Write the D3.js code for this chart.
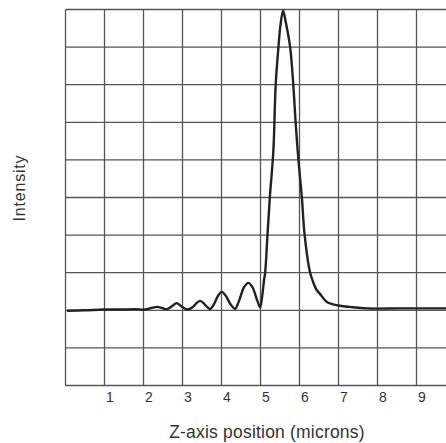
<!DOCTYPE html>
<html><head><meta charset="utf-8">
<script src="https://cdn.jsdelivr.net/npm/d3@7"></script>
<style>body{margin:0;background:#fff;overflow:hidden}svg{display:block}</style>
</head><body>
<svg id="c" width="446" height="443"></svg>
<script>
const zPosition = [0.04,0.5,0.96,1.40,1.78,2.04,2.20,2.35,2.48,2.60,2.72,2.85,2.98,3.12,3.27,3.37,3.45,3.53,3.63,3.71,3.80,3.92,4.01,4.10,4.24,4.35,4.45,4.58,4.69,4.80,4.92,4.99,5.03,5.09,5.12,5.18,5.24,5.33,5.39,5.46,5.51,5.58,5.65,5.76,5.84,5.90,5.97,6.06,6.13,6.27,6.35,6.44,6.53,6.70,6.86,7.04,7.29,7.72,8.58,9.76];
const intensity = [1.99,2.00,2.02,2.02,2.03,2.02,2.06,2.09,2.06,2.03,2.10,2.19,2.10,2.02,2.09,2.20,2.25,2.20,2.09,2.03,2.15,2.40,2.49,2.40,2.15,2.04,2.25,2.62,2.73,2.60,2.25,2.08,2.27,2.80,3.01,4.02,5.01,6.25,8.01,9.00,9.57,9.97,9.65,9.00,8.01,7.01,6.02,5.01,4.02,3.01,2.75,2.54,2.43,2.22,2.16,2.12,2.09,2.05,2.05,2.05];
const xTicks = [1,2,3,4,5,6,7,8,9];
const yGrid = [0,1,2,3,4,5,6,7,8,9,10];
const xGrid = [0,1,2,3,4,5,6,7,8,9,10];
const xTitle = "Z-axis position (microns)";
const yTitle = "Intensity";

const svg = d3.select("#c");
const x = d3.scaleLinear().domain([0,10]).range([65.5,455.5]);
const y = d3.scaleLinear().domain([0,10]).range([385.5,9.5]);
const font = "'Liberation Sans', Arial, Helvetica, sans-serif";

const g = svg.append("g");
g.selectAll(".vg").data(xGrid).join("line")
  .attr("x1", d=>x(d)).attr("x2", d=>x(d)).attr("y1", y(0)).attr("y2", y(10))
  .attr("stroke", "#555").attr("stroke-width", 1.3);
g.selectAll(".hg").data(yGrid).join("line")
  .attr("x1", x(0)).attr("x2", x(10)).attr("y1", d=>y(d)).attr("y2", d=>y(d))
  .attr("stroke", "#555").attr("stroke-width", 1.3);

const xAxis = d3.axisBottom(x).tickValues(xTicks).tickSize(0).tickPadding(7).tickFormat(d3.format("d"));
const ax = svg.append("g").attr("transform", `translate(5,${y(0)})`).call(xAxis);
ax.select(".domain").remove();
ax.selectAll("text").attr("font-family", font).attr("font-size", 14).attr("fill", "#333");

const line = d3.line().x((d,i)=>x(zPosition[i])).y(d=>y(d)).curve(d3.curveCatmullRom.alpha(0.5));
svg.append("path").datum(intensity).attr("d", line)
  .attr("fill","none").attr("stroke","#222").attr("stroke-width",2.4).attr("stroke-linejoin","round");

svg.append("text").attr("x", 267).attr("y", 438).attr("text-anchor","middle")
  .attr("font-family", font).attr("font-size", 17.5).attr("letter-spacing", 0.2).attr("fill","#333").text(xTitle);
svg.append("text").attr("transform","translate(25,188) rotate(-90)").attr("text-anchor","middle")
  .attr("font-family", font).attr("font-size", 16).attr("letter-spacing", 0.8).attr("fill","#333").text(yTitle);
</script>
</body></html>
